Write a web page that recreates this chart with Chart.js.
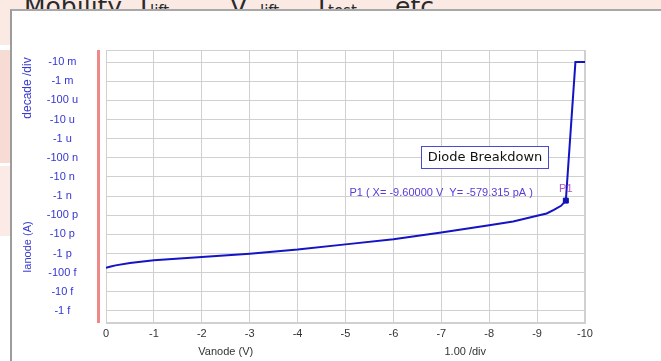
<!DOCTYPE html>
<html>
<head>
<meta charset="utf-8">
<script src="https://cdn.jsdelivr.net/npm/chart.js@4.4.1/dist/chart.umd.min.js"></script>
<style>
  body { margin: 0; width: 661px; height: 361px; overflow: hidden; position: relative; background: #fbe9e4; font-family: 'DejaVu Sans', sans-serif; }
  .t { position: absolute; top: -8px; font-size: 25px; line-height: 30px; color: #2a2a2a; white-space: nowrap; }
  .s { position: absolute; top: 4px; font-size: 15px; line-height: 15px; color: #2a2a2a; white-space: nowrap; }
  .strip { position: absolute; left: 0; width: 10px; }
  #panel { position: absolute; left: 10px; top: 9px; width: 651px; height: 352px; background: #fff; border-left: 2px solid #9c9c9c; border-top: 2px solid #a8a8a8; }
  #chart { position: absolute; left: 0; top: 0; }
</style>
</head>
<body>
<span class="t" style="left:24px">Mobility</span>
<span class="t" style="left:140px">I</span><span class="s" style="left:150px">lift</span>
<span class="t" style="left:230px">V</span><span class="s" style="left:260px">lift</span>
<span class="t" style="left:318px">I</span><span class="s" style="left:328px">test</span>
<span class="t" style="left:395px">etc</span>
<div class="strip" style="top:0;height:45px;background:#fbe9e4"></div>
<div class="strip" style="top:45px;height:5px;background:#fff"></div>
<div class="strip" style="top:50px;height:113px;background:#f6dcd4"></div>
<div class="strip" style="top:163px;height:3px;background:#fff"></div>
<div class="strip" style="top:166px;height:70px;background:#fbeae5"></div>
<div class="strip" style="top:236px;height:125px;background:#fff"></div>
<div id="panel"></div>
<canvas id="chart" width="661" height="361"></canvas>
<script>
// Anode sweep, |Ianode| in amps (plotted on a decade axis, labels show the sign)
const voltage = [0, -0.1, -0.2, -0.5, -1, -2, -3, -4, -5, -6, -7, -8, -8.5, -9, -9.2, -9.35, -9.5, -9.6, -9.8, -10];
const current = [1.8e-13, 2.1e-13, 2.4e-13, 3.2e-13, 4.4e-13, 6.6e-13, 9.8e-13, 1.6e-12, 3.0e-12, 5.6e-12,
                 1.24e-11, 3.0e-11, 4.7e-11, 9.3e-11, 1.23e-10, 1.9e-10, 3.1e-10, 5.79315e-10, 1e-2, 1e-2];

// P1 marker
const markerV = [-9.6];
const markerI = [5.79315e-10];

// axis ticks
const xTicks = [0, -1, -2, -3, -4, -5, -6, -7, -8, -9, -10];
const yTickValues = [1e-15, 1e-14, 1e-13, 1e-12, 1e-11, 1e-10, 1e-9, 1e-8, 1e-7, 1e-6, 1e-5, 1e-4, 1e-3, 1e-2];
const yTickLabels = ['-1 f', '-10 f', '-100 f', '-1 p', '-10 p', '-100 p', '-1 n', '-10 n', '-100 n',
                     '-1 u', '-10 u', '-100 u', '-1 m', '-10 m'];

const blue = '#1414c4';
const gridCol = '#d0d0d0';

const decor = {
    id: 'decor',
    beforeDraw(chart) {
        const { ctx, chartArea: a } = chart;
        ctx.save();
        ctx.fillStyle = '#f08888';
        ctx.fillRect(a.left - 9, a.top, 3, a.bottom - a.top);
        ctx.restore();
    },
    beforeDatasetsDraw(chart) {
        const { ctx, chartArea: a } = chart;
        ctx.save();
        ctx.strokeStyle = gridCol;
        ctx.lineWidth = 1;
        ctx.strokeRect(a.left + 0.5, a.top + 0.5, a.right - a.left - 1, a.bottom - a.top - 1);
        ctx.restore();
    },
    afterDraw(chart) {
        const { ctx, scales: { x, y } } = chart;
        ctx.save();
        ctx.textAlign = 'center';
        ctx.textBaseline = 'middle';

        // x axis titles
        ctx.font = '11px "Liberation Sans", Arial, sans-serif';
        ctx.fillStyle = '#333';
        ctx.fillText('Vanode (V)', x.getPixelForValue(-2.5), 352);
        ctx.fillText('1.00 /div', x.getPixelForValue(-7.5), 352);

        // y axis titles (rotated)
        ctx.fillStyle = '#3a3ad0';
        [['decade /div', 88, 12], ['Ianode (A)', 247, 11]].forEach(([t, cy, fs]) => {
            ctx.save();
            ctx.font = fs + 'px "Liberation Sans", Arial, sans-serif';
            ctx.translate(28, cy);
            ctx.rotate(-Math.PI / 2);
            ctx.fillText(t, 0, 0);
            ctx.restore();
        });

        // marker readout
        const px = x.getPixelForValue(markerV[0]);
        const py = y.getPixelForValue(markerI[0]);
        ctx.font = '11px "Liberation Sans", Arial, sans-serif';
        ctx.fillStyle = '#5a3ad8';
        ctx.textAlign = 'right';
        ctx.fillText('P1 ( X= -9.60000 V  Y= -579.315 pA )', px - 33, py - 8);
        ctx.fillStyle = '#b455c8';
        ctx.textAlign = 'center';
        ctx.fillText('P1', px, py - 12);

        // note box
        ctx.fillStyle = '#fff';
        ctx.fillRect(421, 146, 128, 23);
        ctx.strokeStyle = '#4a4acc';
        ctx.lineWidth = 1;
        ctx.strokeRect(421.5, 146.5, 127, 22);
        ctx.fillStyle = '#111';
        ctx.font = '13px "DejaVu Sans", sans-serif';
        ctx.fillText('Diode Breakdown', 485, 158);
        ctx.restore();
    }
};

new Chart(document.getElementById('chart').getContext('2d'), {
    type: 'line',
    data: {
        datasets: [{
            data: voltage.map((v, i) => ({ x: v, y: current[i] })),
            borderColor: blue,
            borderWidth: 2,
            pointRadius: 0,
            tension: 0
        }, {
            data: markerV.map((v, i) => ({ x: v, y: markerI[i] })),
            showLine: false,
            pointStyle: 'rect',
            pointRadius: 3.5,
            backgroundColor: '#1010a8',
            borderColor: '#1010a8'
        }]
    },
    options: {
        responsive: false,
        animation: false,
        layout: { padding: { left: 0, right: 76, top: 50, bottom: 0 } },
        plugins: { legend: { display: false }, tooltip: { enabled: false } },
        scales: {
            x: {
                type: 'linear',
                min: -10,
                max: 0,
                reverse: true,
                afterBuildTicks: s => { s.ticks = xTicks.map(v => ({ value: v })); },
                afterFit: s => { s.height = 38; },
                grid: { color: gridCol, drawTicks: false },
                border: { color: gridCol },
                ticks: {
                    autoSkip: false,
                    maxRotation: 0,
                    padding: 4,
                    color: '#333',
                    font: { family: '"Liberation Sans", Arial, sans-serif', size: 11 }
                }
            },
            y: {
                type: 'logarithmic',
                min: Math.pow(10, -15.63),
                max: Math.pow(10, -1.37),
                afterBuildTicks: s => { s.ticks = yTickValues.map(v => ({ value: v, major: true })); },
                afterFit: s => { s.width = 106; },
                grid: { color: gridCol, drawTicks: false },
                border: { color: gridCol },
                ticks: {
                    autoSkip: false,
                    crossAlign: 'center',
                    padding: 28,
                    color: '#3535d5',
                    font: { family: '"Liberation Sans", Arial, sans-serif', size: 11 },
                    callback: (v, i) => yTickLabels[i]
                }
            }
        }
    },
    plugins: [decor]
});
</script>
</body>
</html>
